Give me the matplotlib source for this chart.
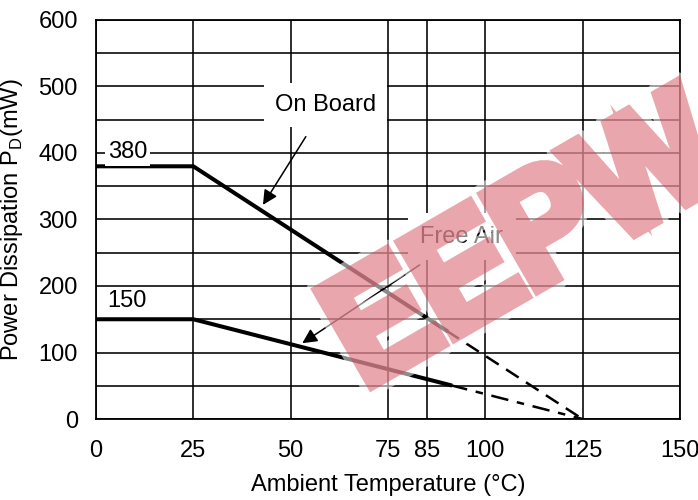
import matplotlib
matplotlib.use("Agg")
import matplotlib.pyplot as plt
from matplotlib.textpath import TextPath
from matplotlib.patches import PathPatch
from matplotlib.font_manager import FontProperties
from matplotlib.transforms import Affine2D, IdentityTransform

# Curva de derating: potencia disipada vs temperatura ambiente

plt.rcParams['font.family'] = ['Liberation Sans', 'DejaVu Sans']

# -------------------------------------------------------
# DATOS
# -------------------------------------------------------
board_solid_t = [0, 25, 90]
board_solid_p = [380, 380, 133]
board_dash_t = [90, 125]
board_dash_p = [133, 0]

air_solid_t = [0, 25, 91]
air_solid_p = [150, 150, 51]
air_dash_t = [91, 125]
air_dash_p = [51, 0]

x_ticks = [0, 25, 50, 75, 85, 100, 125, 150]
y_ticks = [0, 100, 200, 300, 400, 500, 600]
y_grid = [50, 150, 250, 350, 450, 550]

FS = 17


def alpha_filter(a):
    """Aplica transparencia a la capa completa (sin solapes)."""
    def f(img, dpi):
        img = img.copy()
        img[..., 3] *= a
        return img, 0, 0
    return f


# -------------------------------------------------------
# GRAFICA
# -------------------------------------------------------
fig = plt.figure(figsize=(6.98, 5.0), dpi=100)
ax = fig.add_axes([0.1375, 0.162, 0.8365, 0.798])

ax.set_xlim(0, 150)
ax.set_ylim(0, 600)
ax.set_xticks(x_ticks)
ax.set_yticks(y_ticks)
ax.tick_params(length=0, labelsize=FS)
ax.tick_params(axis='x', pad=15)
ax.tick_params(axis='y', pad=13)
for s in ax.spines.values():
    s.set_linewidth(1.3)

# rejilla
for xv in x_ticks:
    ax.axvline(xv, color='black', lw=1.15, zorder=1)
for yv in y_ticks + y_grid:
    ax.axhline(yv, color='black', lw=1.15, zorder=1)

# curvas
ax.plot(board_solid_t, board_solid_p, color='black', lw=2.9, zorder=3,
        solid_joinstyle='miter')
ax.plot(board_dash_t, board_dash_p, color='black', lw=1.8, zorder=3,
        dashes=(6, 3.5))
ax.plot(air_solid_t, air_solid_p, color='black', lw=2.9, zorder=3,
        solid_joinstyle='miter')
ax.plot(air_dash_t, air_dash_p, color='black', lw=1.8, zorder=3,
        dashes=(7, 3.5, 3, 3.5))

# etiquetas
box = dict(facecolor='white', edgecolor='none', pad=2)
ax.text(3, 401, '380', fontsize=FS, va='center', ha='left', bbox=box, zorder=4)
ax.text(3, 177, '150', fontsize=FS, va='center', ha='left', zorder=4)

ax.annotate('On Board', xy=(42.9, 322), xytext=(59, 472),
            fontsize=FS, ha='center', va='center', zorder=4,
            bbox=dict(facecolor='white', edgecolor='none', pad=8),
            arrowprops=dict(arrowstyle='-|>', color='black', lw=1.1,
                            mutation_scale=22, shrinkA=8, shrinkB=0))
ax.annotate('Free Air', xy=(53, 114), xytext=(94, 274),
            fontsize=FS, ha='center', va='center', zorder=4,
            bbox=dict(facecolor='white', edgecolor='none', pad=9),
            arrowprops=dict(arrowstyle='-|>', color='black', lw=1.1,
                            mutation_scale=22, shrinkA=6, shrinkB=0))

ax.set_xlabel('Ambient Temperature (°C)', fontsize=FS, labelpad=9)
ax.set_ylabel(r'Power Dissipation P$_{\mathregular{D}}$(mW)', fontsize=FS,
              labelpad=10)

# marca de agua
tp = TextPath((0, 0), 'EEPW', size=156,
              prop=FontProperties(family='Liberation Sans', weight='bold'))
tr = (Affine2D().translate(-10, 0).scale(0.92, 1.0).rotate_deg(30)
      .translate(372, 116))
halo = PathPatch(tp, transform=tr + IdentityTransform(), facecolor='white',
                 edgecolor='white', lw=18, joinstyle='round', zorder=5)
halo.set_agg_filter(alpha_filter(0.55))
mark = PathPatch(tp, transform=tr + IdentityTransform(), facecolor='#d4414f',
                 edgecolor='#d4414f', lw=9, joinstyle='miter', zorder=6)
mark.set_agg_filter(alpha_filter(0.47))
fig.add_artist(halo)
fig.add_artist(mark)

fig.savefig('out.png', dpi=100)
